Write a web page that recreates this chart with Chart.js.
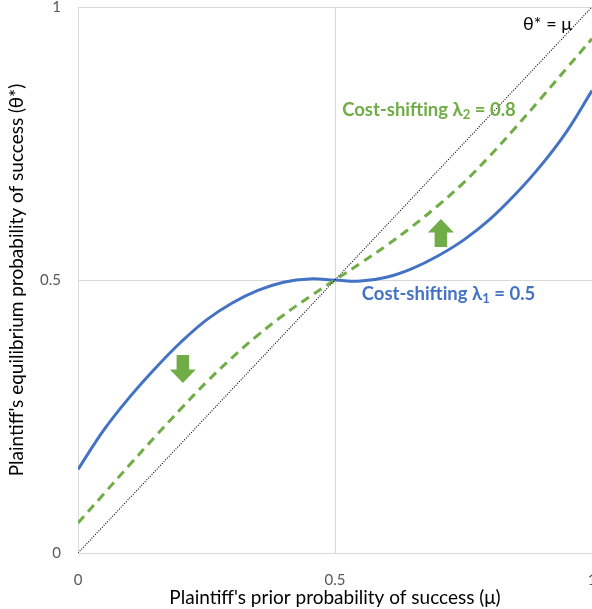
<!DOCTYPE html>
<html>
<head>
<meta charset="utf-8">
<script src="https://cdn.jsdelivr.net/npm/chart.js@4.4.1/dist/chart.umd.min.js"></script>
<style>
  html, body { margin: 0; padding: 0; background: #ffffff; }
  #wrap { width: 592px; height: 609px; position: relative; }
</style>
</head>
<body>
<div id="wrap"><canvas id="chart"></canvas></div>
<script>
// Plaintiff's prior probability of success (μ)
const priorMu = [0, 0.05, 0.1, 0.15, 0.2, 0.25, 0.3, 0.35, 0.4, 0.45, 0.5,
                 0.55, 0.6, 0.65, 0.7, 0.75, 0.8, 0.85, 0.9, 0.95, 1];
// Equilibrium probability of success (θ*) with cost-shifting λ1 = 0.5
const thetaLambda1 = [0.153, 0.225, 0.285, 0.338, 0.386, 0.427, 0.458, 0.481, 0.496, 0.502, 0.500,
                      0.498, 0.505, 0.521, 0.544, 0.573, 0.610, 0.656, 0.709, 0.771, 0.847];
// Equilibrium probability of success (θ*) with cost-shifting λ2 = 0.8
const thetaLambda2 = [0.055, 0.108, 0.161, 0.213, 0.264, 0.313, 0.358, 0.399, 0.436, 0.469, 0.500,
                      0.531, 0.563, 0.598, 0.636, 0.678, 0.726, 0.778, 0.832, 0.887, 0.942];
// Reference line θ* = μ
const identityMu = [0, 1];
const identityTheta = [0, 1];
// Axis ticks
const axisTicks = [0, 0.5, 1];
// Annotation texts (main part, subscript, rest)
const labelLambda1 = ['Cost-shifting λ', '1', ' = 0.5'];
const labelLambda2 = ['Cost-shifting λ', '2', ' = 0.8'];
const labelIdentity = 'θ* = μ';
const xTitle = "Plaintiff's prior probability of success (μ)";
const yTitle = "Plaintiff's equilibrium probability of success (θ*)";

const BLUE = '#4472C4';
const GREEN = '#70AD47';
const FONT = "Lato, 'Noto Sans', sans-serif";

const toPoints = (xs, ys) => xs.map((x, i) => ({ x: x, y: ys[i] }));

// Text and arrow annotations, anchored in data coordinates
const annotations = {
  texts: [
    { parts: labelLambda2, mu: 0.514, theta: 0.811, color: GREEN, bold: true, size: 18.5 },
    { parts: labelLambda1, mu: 0.552, theta: 0.474, color: BLUE, bold: true, size: 18.5 },
    { parts: [labelIdentity], mu: 0.866, theta: 0.969, color: '#000000', bold: false, size: 18 }
  ],
  arrows: [
    { mu: 0.706, theta: 0.586, dir: 'up' },
    { mu: 0.204, theta: 0.337, dir: 'down' }
  ]
};

const annotationPlugin = {
  id: 'annotationPlugin',
  afterDatasetsDraw(chart) {
    const ctx = chart.ctx;
    const xs = chart.scales.x, ys = chart.scales.y;
    ctx.save();
    // block arrows
    annotations.arrows.forEach(a => {
      const cx = xs.getPixelForValue(a.mu);
      const cy = ys.getPixelForValue(a.theta);
      const w = 26, h = 28, head = 13.5, shaft = 12.5;
      const s = a.dir === 'up' ? 1 : -1;
      const tip = cy - s * h / 2, base = cy + s * h / 2, neck = tip + s * head;
      ctx.beginPath();
      ctx.moveTo(cx, tip);
      ctx.lineTo(cx + w / 2, neck);
      ctx.lineTo(cx + shaft / 2, neck);
      ctx.lineTo(cx + shaft / 2, base);
      ctx.lineTo(cx - shaft / 2, base);
      ctx.lineTo(cx - shaft / 2, neck);
      ctx.lineTo(cx - w / 2, neck);
      ctx.closePath();
      ctx.fillStyle = GREEN;
      ctx.fill();
    });
    // labels with subscripts
    ctx.textBaseline = 'middle';
    ctx.textAlign = 'left';
    annotations.texts.forEach(t => {
      let x = xs.getPixelForValue(t.mu);
      const y = ys.getPixelForValue(t.theta);
      const weight = t.bold ? 'bold ' : '';
      ctx.fillStyle = t.color;
      t.parts.forEach((p, i) => {
        const isSub = i === 1;
        ctx.font = weight + (isSub ? Math.round(t.size * 0.7) : t.size) + 'px ' + FONT;
        ctx.fillText(p, x, isSub ? y + 5 : y);
        x += ctx.measureText(p).width;
      });
    });
    ctx.restore();
  }
};

new Chart(document.getElementById('chart'), {
  type: 'line',
  data: {
    datasets: [
      {
        label: 'θ* = μ',
        data: toPoints(identityMu, identityTheta),
        borderColor: '#000000',
        borderWidth: 1.1,
        borderDash: [1, 1.5],
        pointRadius: 0,
        fill: false
      },
      {
        label: 'λ2 = 0.8',
        data: toPoints(priorMu, thetaLambda2),
        borderColor: GREEN,
        borderWidth: 3,
        borderDash: [9, 6],
        pointRadius: 0,
        tension: 0.4,
        fill: false
      },
      {
        label: 'λ1 = 0.5',
        data: toPoints(priorMu, thetaLambda1),
        borderColor: BLUE,
        borderWidth: 3,
        pointRadius: 0,
        tension: 0.4,
        fill: false
      }
    ]
  },
  options: {
    responsive: true,
    maintainAspectRatio: false,
    animation: false,
    layout: { padding: { top: 7, left: 0, right: 0, bottom: 0 } },
    plugins: { legend: { display: false }, tooltip: { enabled: false } },
    scales: {
      x: {
        type: 'linear',
        min: 0, max: 1,
        afterBuildTicks(s) { s.ticks = axisTicks.map(v => ({ value: v })); },
        afterFit(s) { s.height = 56; s.paddingLeft = 0; s.paddingRight = 0; },
        grid: { color: '#d9d9d9', lineWidth: 1, drawTicks: false },
        border: { color: '#d9d9d9', width: 1 },
        ticks: { padding: 18, color: '#595959', font: { family: FONT, size: 15 }, maxRotation: 0,
                 callback: v => String(v) },
        title: { display: true, text: xTitle, color: '#000000', font: { family: FONT, size: 19 }, padding: { top: 0, bottom: 0 } }
      },
      y: {
        type: 'linear',
        min: 0, max: 1,
        afterBuildTicks(s) { s.ticks = axisTicks.map(v => ({ value: v })); },
        afterFit(s) { s.width = 78; s.paddingTop = 0; s.paddingBottom = 0; },
        grid: { color: '#d9d9d9', lineWidth: 1, drawTicks: false },
        border: { color: '#d9d9d9', width: 1 },
        ticks: { padding: 17, color: '#595959', font: { family: FONT, size: 15 },
                 callback: v => String(v) },
        title: { display: true, text: yTitle, color: '#000000', font: { family: FONT, size: 19 }, padding: { top: 5, bottom: 0 } }
      }
    }
  },
  plugins: [annotationPlugin]
});
</script>
</body>
</html>
